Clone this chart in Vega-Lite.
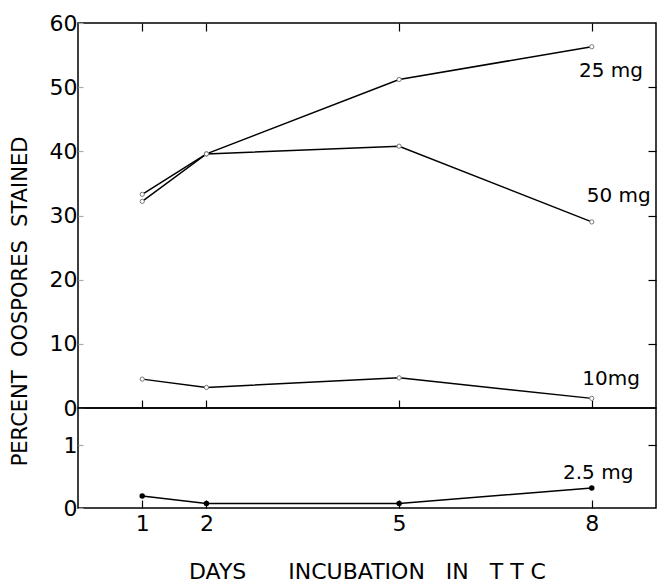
{
  "$schema": "https://vega.github.io/schema/vega-lite/v6.json",
  "padding": {"left": 8, "top": 11, "right": 0, "bottom": 0},
  "bounds": "flush",
  "background": "white",
  "config": {
    "font": "DejaVu Sans",
    "view": {"stroke": "black", "strokeWidth": 1.5},
    "axis": {"grid": false, "domain": false, "tickColor": "black", "labelColor": "black", "titleColor": "black", "labelFont": "DejaVu Sans", "titleFont": "DejaVu Sans", "titleFontWeight": "normal", "labelFontSize": 22, "titleFontSize": 21, "tickWidth": 1.2}
  },
  "datasets": {
    "upper": [
      {"day": 1, "pct": 33.3, "dose": "25 mg"},
      {"day": 2, "pct": 39.6, "dose": "25 mg"},
      {"day": 5, "pct": 51.2, "dose": "25 mg"},
      {"day": 8, "pct": 56.3, "dose": "25 mg"},
      {"day": 1, "pct": 32.2, "dose": "50 mg"},
      {"day": 2, "pct": 39.6, "dose": "50 mg"},
      {"day": 5, "pct": 40.8, "dose": "50 mg"},
      {"day": 8, "pct": 29.0, "dose": "50 mg"},
      {"day": 1, "pct": 4.5, "dose": "10 mg"},
      {"day": 2, "pct": 3.2, "dose": "10 mg"},
      {"day": 5, "pct": 4.7, "dose": "10 mg"},
      {"day": 8, "pct": 1.5, "dose": "10 mg"}
    ],
    "upperLabels": [
      {"day": 8.3, "pct": 52.5, "label": "25 mg"},
      {"day": 8.42, "pct": 33.0, "label": "50 mg"},
      {"day": 8.3, "pct": 4.5, "label": "10mg"}
    ],
    "lower": [
      {"day": 1, "pct": 0.19, "dose": "2.5 mg"},
      {"day": 2, "pct": 0.07, "dose": "2.5 mg"},
      {"day": 5, "pct": 0.07, "dose": "2.5 mg"},
      {"day": 8, "pct": 0.32, "dose": "2.5 mg"}
    ],
    "lowerLabels": [
      {"day": 8.1, "pct": 0.56, "label": "2.5 mg"}
    ]
  },
  "vconcat": [
    {
      "width": 578,
      "height": 385,
      "layer": [
        {
          "data": {"name": "upper"},
          "mark": {"type": "line", "color": "black", "strokeWidth": 1.5, "point": {"filled": true, "fill": "white", "stroke": "#777", "strokeWidth": 1, "size": 18}},
          "encoding": {
            "x": {"field": "day", "type": "quantitative", "scale": {"domain": [0, 9], "nice": false}, "axis": {"orient": "bottom", "values": [1, 2, 5, 8], "labels": false, "tickSize": -8, "title": null}},
            "y": {"field": "pct", "type": "quantitative", "scale": {"domain": [0, 60], "nice": false}, "axis": {"orient": "left", "values": [0, 10, 20, 30, 40, 50, 60], "tickSize": -5, "tickColor": "#aaa", "labelPadding": 6, "title": "PERCENT\u00a0\u00a0OOSPORES\u00a0\u00a0STAINED", "titleX": -58, "titleY": 278, "titleAngle": -90, "titleBaseline": "middle", "titleAlign": "center"}},
            "detail": {"field": "dose"}
          }
        },
        {
          "data": {"name": "upperLabels"},
          "mark": {"type": "text", "fontSize": 20, "align": "center", "baseline": "middle", "color": "black"},
          "encoding": {
            "x": {"field": "day", "type": "quantitative", "axis": {"orient": "top", "values": [1, 2, 5, 8], "labels": false, "tickSize": -8, "title": null}},
            "y": {"field": "pct", "type": "quantitative", "axis": {"orient": "right", "values": [10, 20, 30, 40, 50], "labels": false, "tickSize": -8, "title": null}},
            "text": {"field": "label"}
          }
        }
      ]
    },
    {
      "width": 578,
      "height": 100,
      "layer": [
        {
          "data": {"name": "lower"},
          "mark": {"type": "line", "color": "black", "strokeWidth": 1.5, "point": {"filled": true, "fill": "black", "size": 30}},
          "encoding": {
            "x": {"field": "day", "type": "quantitative", "scale": {"domain": [0, 9], "nice": false}, "axis": {"orient": "bottom", "values": [1, 2, 5, 8], "format": "d", "tickSize": -8, "labelPadding": 13, "title": "DAYS\u00a0\u00a0\u00a0\u00a0\u00a0\u00a0INCUBATION\u00a0\u00a0\u00a0IN\u00a0\u00a0\u00a0T\u00a0T\u00a0C", "titleFontSize": 22, "titlePadding": 27}},
            "y": {"field": "pct", "type": "quantitative", "scale": {"domain": [0, 1.595], "nice": false}, "axis": {"orient": "left", "values": [0, 1], "tickSize": -5, "tickColor": "#aaa", "labelPadding": 6, "title": null}},
            "detail": {"field": "dose"}
          }
        },
        {
          "data": {"name": "lowerLabels"},
          "mark": {"type": "text", "fontSize": 20, "align": "center", "baseline": "middle", "color": "black"},
          "encoding": {
            "x": {"field": "day", "type": "quantitative"},
            "y": {"field": "pct", "type": "quantitative", "axis": {"orient": "right", "values": [1], "labels": false, "tickSize": -8, "title": null}},
            "text": {"field": "label"}
          }
        }
      ]
    }
  ],
  "spacing": 0
}
